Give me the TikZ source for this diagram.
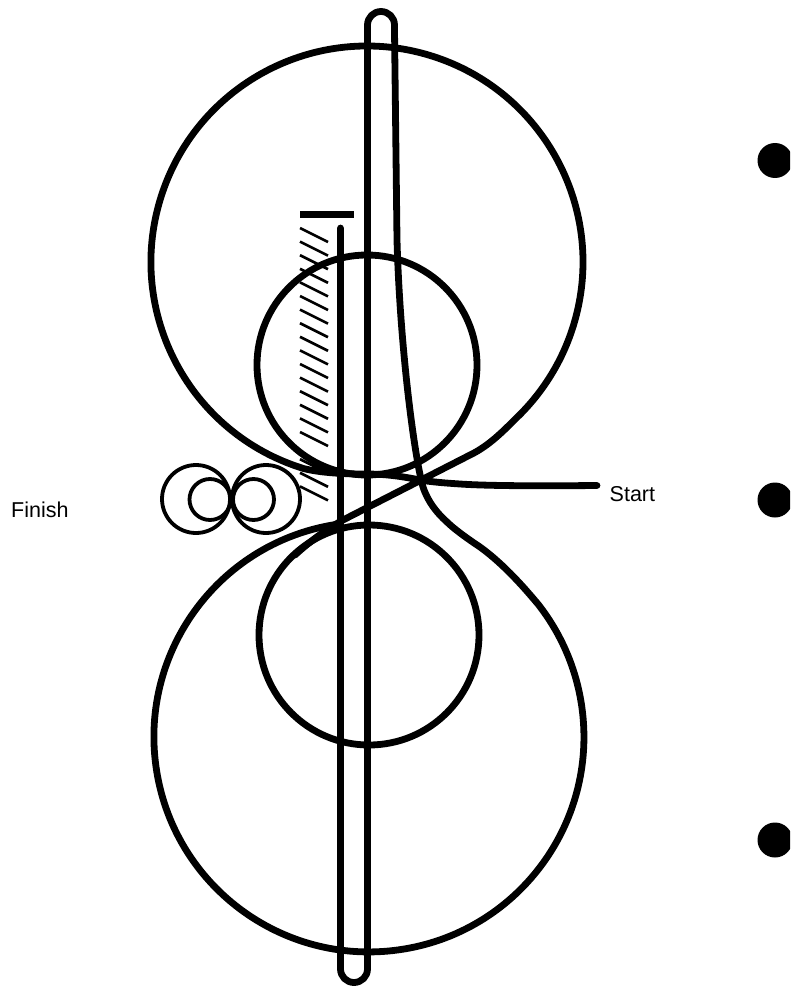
\documentclass[tikz,border=0pt]{standalone}
\usepackage{fontspec}
\setmainfont{Liberation Sans}
\begin{document}
\begin{tikzpicture}[x=1pt,y=-1pt,
  main/.style={line width=6.8pt,line cap=round,line join=round,black},
  thinc/.style={line width=3.8pt,black,circle,draw,inner sep=0pt},
  hatchline/.style={line width=2.6pt,black},
  lab/.style={font=\fontsize{21.5}{24}\selectfont,inner sep=0pt,anchor=base west},
  dot/.style={circle,fill=black,minimum size=35pt,inner sep=0pt,draw=none}]
\useasboundingbox (0,0) rectangle (790,987);
\clip (0,0) rectangle (790,987);
% hatching
\foreach \k in {0,...,15,17,18,19}
  \draw[hatchline] (300,{228+13.6*\k}) -- (328,{242+13.6*\k});
\draw[line width=7pt] (300,214.5) -- (354,214.5);
% inner rollers
\node[circle,draw,main,minimum size=220pt,inner sep=0pt] (innertop) at (367,365) {};
\node[circle,draw,main,minimum size=220pt,inner sep=0pt] (innerbot) at (369,635) {};
% top large loop with Start tail and crossover
\coordinate (startend) at (597,485.5);
\draw[main] (startend) .. controls (540,486) and (490,486) .. (460,484)
  .. controls (445,483) and (432,482) .. (420,480)
  .. controls (400,476) and (385,474) .. (365,474)
  .. controls (345,474) and (322,473) .. (303.8,468.6)
  arc[start angle=107,end angle=405,radius=216]
  .. controls (507,427) and (491,445) .. (470,455)
  -- (343,520)
  .. controls (325,530) and (308,543) .. (295,555);
% bottom large loop with tape
\draw[main] (339,524) arc[start angle=262,end angle=-38,radius=215]
  .. controls (527,591) and (505,565) .. (480,547)
  .. controls (465,537) and (453,528) .. (447,522)
  .. controls (437,513) and (428,502) .. (423,487)
  .. controls (415,460) and (400,350) .. (397,240)
  -- (394.5,30) -- (394.5,25)
  arc[start angle=0,end angle=-180,radius=13.5]
  -- (367.5,969)
  arc[start angle=0,end angle=180,radius=13.5]
  -- (340.5,228);
% small rollers
\node[thinc,minimum size=68pt] (finishouterl) at (196,499) {};
\node[thinc,minimum size=41pt] (finishinnerl) at (210,499.5) {};
\node[thinc,minimum size=68pt] (finishouterr) at (266,499) {};
\node[thinc,minimum size=41pt] (finishinnerr) at (253.5,499.5) {};
% labels
\node[lab] (finish) at (11,517.5) {Finish};
\node[lab] (start) at (609.5,501.7) {Start};
% dots
\node[dot] (dota) at (775,160.5) {};
\node[dot] (dotb) at (775,500) {};
\node[dot] (dotc) at (775,840) {};
\end{tikzpicture}
\end{document}
